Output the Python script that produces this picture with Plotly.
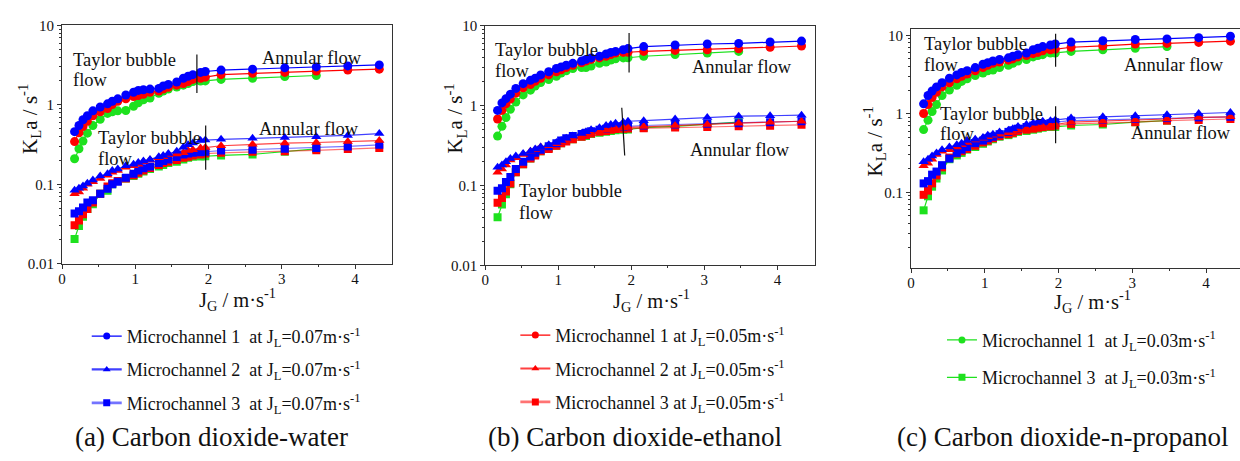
import plotly.graph_objects as go

# ---------------- data ----------------
jg = [0.17, 0.23, 0.285, 0.345, 0.42, 0.52, 0.62, 0.685, 0.76, 0.87, 0.975, 1.04, 1.11, 1.20, 1.32,
      1.38, 1.45, 1.565, 1.655, 1.72, 1.785, 1.89, 1.955, 2.17, 2.60, 3.04, 3.47, 3.90, 4.33]
jg_short = jg[:27]

# (a) carbon dioxide - water
a_c1_blue = [0.46, 0.55, 0.65, 0.73, 0.84, 0.94, 1.03, 1.11, 1.19, 1.33, 1.44, 1.52, 1.55, 1.58, 1.61, 1.73, 1.81,
             1.94, 2.16, 2.29, 2.40, 2.56, 2.63, 2.74, 2.81, 2.92, 3.00, 3.09, 3.18]
a_c1_red = [0.345, 0.445, 0.535, 0.62, 0.73, 0.82, 0.90, 1.01, 1.11, 1.19, 1.27, 1.31, 1.36, 1.44, 1.49, 1.58, 1.66,
            1.77, 1.85, 1.97, 2.09, 2.16, 2.23, 2.40, 2.49, 2.56, 2.66, 2.74, 2.81]
a_c1_green = [0.21, 0.28, 0.35, 0.44, 0.55, 0.66, 0.78, 0.82, 0.84, 0.85, 0.96, 1.06, 1.16, 1.22, 1.40, 1.49, 1.58,
              1.68, 1.77, 1.85, 1.97, 1.99, 2.00, 2.09, 2.16, 2.27, 2.34]
a_c2_blue = [0.084, 0.089, 0.095, 0.103, 0.113, 0.127, 0.136, 0.149, 0.156, 0.171, 0.179, 0.188, 0.197, 0.206, 0.223,
             0.231, 0.244, 0.261, 0.292, 0.314, 0.33, 0.355, 0.36, 0.368, 0.379, 0.389, 0.397, 0.412, 0.435]
a_c2_red = [0.076, 0.080, 0.089, 0.100, 0.108, 0.118, 0.130, 0.142, 0.149, 0.164, 0.171, 0.179, 0.192, 0.203, 0.216,
            0.223, 0.238, 0.240, 0.249, 0.266, 0.273, 0.287, 0.29, 0.306, 0.32, 0.33, 0.336, 0.345, 0.355]
a_c3_blue = [0.043, 0.046, 0.051, 0.059, 0.063, 0.076, 0.088, 0.100, 0.108, 0.121, 0.136, 0.149, 0.159, 0.168, 0.185,
             0.197, 0.206, 0.221, 0.238, 0.244, 0.249, 0.254, 0.257, 0.266, 0.273, 0.281, 0.287, 0.300, 0.314]
a_c3_red = [0.0305, 0.035, 0.042, 0.049, 0.059, 0.076, 0.094, 0.103, 0.110, 0.118, 0.130, 0.140, 0.149, 0.161, 0.175,
            0.185, 0.192, 0.203, 0.216, 0.223, 0.231, 0.238, 0.244, 0.249, 0.257, 0.261, 0.268, 0.279, 0.287]
a_c3_green = [0.0205, 0.030, 0.039, 0.049, 0.056, 0.076, 0.083, 0.100, 0.110, 0.118, 0.127, 0.136, 0.145, 0.156,
              0.168, 0.175, 0.185, 0.192, 0.206, 0.216, 0.223, 0.224, 0.226, 0.231, 0.238, 0.257, 0.279]

# (b) carbon dioxide - ethanol
b_c1_blue = [0.87, 1.08, 1.22, 1.39, 1.64, 1.88, 2.07, 2.20, 2.42, 2.65, 2.91, 3.05, 3.20, 3.38, 3.61, 3.78, 3.95,
             4.14, 4.42, 4.63, 4.76, 4.99, 5.17, 5.47, 5.73, 5.90, 6.00, 6.24, 6.41]
b_c1_red = [0.68, 0.87, 1.05, 1.21, 1.43, 1.67, 1.83, 2.01, 2.20, 2.42, 2.65, 2.80, 2.99, 3.20, 3.43, 3.61, 3.78,
            3.95, 4.14, 4.35, 4.54, 4.63, 4.65, 4.76, 4.90, 4.99, 5.13, 5.37, 5.57]
b_c1_green = [0.415, 0.55, 0.71, 0.90, 1.11, 1.36, 1.56, 1.76, 1.94, 2.12, 2.33, 2.56, 2.73, 2.91, 2.99, 3.00, 3.13,
              3.38, 3.51, 3.71, 3.85, 3.95, 3.97, 4.14, 4.35, 4.54, 4.76]
b_c2_blue = [0.169, 0.180, 0.198, 0.217, 0.234, 0.252, 0.269, 0.287, 0.303, 0.324, 0.346, 0.366, 0.390, 0.415, 0.448,
             0.469, 0.500, 0.529, 0.564, 0.580, 0.602, 0.620, 0.637, 0.648, 0.680, 0.712, 0.738, 0.746, 0.759]
b_c2_red = [0.147, 0.161, 0.180, 0.209, 0.223, 0.245, 0.269, 0.281, 0.303, 0.315, 0.333, 0.346, 0.366, 0.390, 0.408,
            0.427, 0.448, 0.469, 0.491, 0.500, 0.514, 0.529, 0.532, 0.548, 0.564, 0.580, 0.602, 0.620, 0.637]
b_c3_blue = [0.086, 0.0925, 0.111, 0.128, 0.161, 0.198, 0.230, 0.257, 0.281, 0.309, 0.339, 0.366, 0.390, 0.415, 0.440,
             0.456, 0.478, 0.500, 0.514, 0.529, 0.539, 0.548, 0.550, 0.564, 0.580, 0.591, 0.602, 0.620, 0.637]
b_c3_red = [0.061, 0.070, 0.084, 0.106, 0.147, 0.185, 0.217, 0.238, 0.269, 0.287, 0.315, 0.339, 0.356, 0.380, 0.408,
            0.427, 0.448, 0.469, 0.482, 0.500, 0.510, 0.514, 0.516, 0.520, 0.530, 0.540, 0.550, 0.560, 0.575]
b_c3_green = [0.040, 0.058, 0.078, 0.1035, 0.147, 0.185, 0.217, 0.245, 0.269, 0.295, 0.315, 0.339, 0.366, 0.380,
              0.408, 0.415, 0.440, 0.456, 0.469, 0.482, 0.491, 0.500, 0.502, 0.529, 0.548, 0.580, 0.620]

# (c) carbon dioxide - n-propanol
c_c1_blue = [1.34, 1.71, 1.95, 2.20, 2.49, 2.84, 3.13, 3.37, 3.54, 3.88, 4.28, 4.48, 4.70, 4.92, 5.16, 5.41, 5.67,
             5.94, 6.54, 6.85, 7.18, 7.53, 7.74, 8.20, 8.51, 8.83, 9.00, 9.34, 9.72]
c_c1_red = [1.01, 1.31, 1.61, 1.88, 2.20, 2.49, 2.79, 3.01, 3.22, 3.54, 3.88, 4.16, 4.40, 4.56, 4.83, 5.01, 5.31,
            5.52, 5.84, 6.06, 6.36, 6.54, 6.66, 7.05, 7.32, 7.74, 7.88, 8.12, 8.43]
c_c1_green = [0.63, 0.83, 1.07, 1.31, 1.71, 2.01, 2.31, 2.59, 2.79, 3.07, 3.31, 3.54, 3.61, 3.88, 4.16, 4.40, 4.70,
              4.92, 5.31, 5.52, 5.67, 5.94, 5.96, 6.24, 6.54, 6.85, 7.18]
c_c2_blue = [0.245, 0.264, 0.290, 0.318, 0.350, 0.378, 0.403, 0.423, 0.456, 0.474, 0.501, 0.535, 0.550, 0.589, 0.617,
             0.647, 0.691, 0.731, 0.760, 0.782, 0.804, 0.819, 0.834, 0.882, 0.916, 0.942, 0.970, 1.01, 1.04]
c_c2_red = [0.218, 0.235, 0.264, 0.304, 0.334, 0.350, 0.378, 0.403, 0.432, 0.464, 0.488, 0.511, 0.535, 0.550, 0.573,
            0.589, 0.617, 0.647, 0.665, 0.679, 0.691, 0.710, 0.731, 0.782, 0.804, 0.834, 0.859, 0.900, 0.916]
c_c3_blue = [0.130, 0.139, 0.168, 0.184, 0.222, 0.269, 0.318, 0.350, 0.378, 0.423, 0.456, 0.488, 0.511, 0.550, 0.589,
             0.617, 0.647, 0.679, 0.710, 0.731, 0.745, 0.760, 0.782, 0.819, 0.834, 0.859, 0.882, 0.900, 0.916]
c_c3_red = [0.093, 0.105, 0.130, 0.164, 0.208, 0.277, 0.312, 0.334, 0.357, 0.392, 0.432, 0.456, 0.488, 0.520, 0.550,
            0.573, 0.605, 0.628, 0.647, 0.665, 0.679, 0.691, 0.710, 0.745, 0.760, 0.782, 0.819, 0.834, 0.859]
c_c3_green = [0.059, 0.089, 0.118, 0.150, 0.190, 0.264, 0.295, 0.318, 0.350, 0.378, 0.415, 0.444, 0.474, 0.511,
              0.535, 0.561, 0.589, 0.605, 0.628, 0.647, 0.665, 0.679, 0.681, 0.710, 0.731, 0.782, 0.819]

# flow-regime transition markers: (x0, x1, y0, y1)
trans_a = [(1.84, 1.84, 1.41, 4.3), (1.96, 1.96, 0.153, 0.55)]
trans_b = [(1.97, 1.97, 2.6, 8.07), (1.91, 1.87, 0.238, 0.94)]
trans_c = [(1.96, 1.96, 3.99, 10.5), (1.96, 1.96, 0.423, 1.25)]

x_ticks = [0, 1, 2, 3, 4]
y_ticks = [0.01, 0.1, 1, 10]
y_tick_text = ["0.01", "0.1", "1", "10"]

leg_a = ["Microchannel 1\u00a0 at J<sub>L</sub>=0.07m\u00b7s<sup>-1</sup>",
         "Microchannel 2\u00a0 at J<sub>L</sub>=0.07m\u00b7s<sup>-1</sup>",
         "Microchannel 3\u00a0 at J<sub>L</sub>=0.07m\u00b7s<sup>-1</sup>"]
leg_b = ["Microchannel 1 at J<sub>L</sub>=0.05m\u00b7s<sup>-1</sup>",
         "Microchannel 2 at J<sub>L</sub>=0.05m\u00b7s<sup>-1</sup>",
         "Microchannel 3 at J<sub>L</sub>=0.05m\u00b7s<sup>-1</sup>"]
leg_c = ["Microchannel 1\u00a0 at J<sub>L</sub>=0.03m\u00b7s<sup>-1</sup>",
         "Microchannel 3\u00a0 at J<sub>L</sub>=0.03m\u00b7s<sup>-1</sup>"]
panel_titles = ["(a) Carbon dioxide-water", "(b) Carbon dioxide-ethanol", "(c) Carbon dioxide-n-propanol"]

# ---------------- style ----------------
FONT = "Liberation Serif"
BLUE, RED, GREEN = "#0000ff", "#ff0000", "#1ee11e"
LINE = {BLUE: ["#0000ff", "rgba(0,0,255,0.75)", "rgba(0,0,255,0.55)"],
        RED: ["#ff0000", "rgba(255,0,0,0.75)", "rgba(255,0,0,0.55)"],
        GREEN: ["#1ee11e", "#1ee11e", "#1ee11e"]}
LEG_W = [1.3, 2.2, 2.6]
SYM = {"c": "circle", "t": "triangle-up", "s": "square"}
IDX = {"c": 0, "t": 1, "s": 2}

fig = go.Figure()


def ax(n):
    return ("x", "y") if n == 1 else (f"x{n}", f"y{n}")


def add_series(xs, ys, color, kind, n):
    size = {"c": 9, "t": 9, "s": 8}[kind]
    xa, ya = ax(n)
    fig.add_trace(go.Scatter(
        x=xs, y=ys, mode="lines+markers",
        line=dict(color=LINE[color][IDX[kind]], width=1.2),
        marker=dict(symbol=SYM[kind], size=size, color=color, line=dict(width=0)),
        xaxis=xa, yaxis=ya, showlegend=False,
    ))


panels = [
    (1, [a_c1_blue, a_c1_red, a_c1_green], [a_c2_blue, a_c2_red], [a_c3_blue, a_c3_red, a_c3_green], trans_a),
    (2, [b_c1_blue, b_c1_red, b_c1_green], [b_c2_blue, b_c2_red], [b_c3_blue, b_c3_red, b_c3_green], trans_b),
    (3, [c_c1_blue, c_c1_red, c_c1_green], [c_c2_blue, c_c2_red], [c_c3_blue, c_c3_red, c_c3_green], trans_c),
]

for n, circ, tri, sq, trans in panels:
    for ys, col in zip(sq[::-1], [GREEN, RED, BLUE]):
        add_series(jg if len(ys) == len(jg) else jg_short, ys, col, "s", n)
    for ys, col in zip(tri[::-1], [RED, BLUE]):
        add_series(jg, ys, col, "t", n)
    for ys, col in zip(circ[::-1], [GREEN, RED, BLUE]):
        add_series(jg if len(ys) == len(jg) else jg_short, ys, col, "c", n)
    xa, ya = ax(n)
    for (x0, x1, y0, y1) in trans:
        fig.add_trace(go.Scatter(
            x=[x0, x1], y=[y0, y1], mode="lines", line=dict(color="#111", width=1.2),
            xaxis=xa, yaxis=ya, showlegend=False, hoverinfo="skip"))

# legend entries (legend-only traces)
for legend, color, names, kinds in [("legend", BLUE, leg_a, "cts"), ("legend2", RED, leg_b, "cts"),
                                    ("legend3", GREEN, leg_c, "cs")]:
    for nm, k in zip(names, kinds):
        fig.add_trace(go.Scatter(
            x=[None], y=[None], mode="lines+markers", name=nm, legend=legend, legendgroup=nm,
            line=dict(color=LINE[color][IDX[k]], width=LEG_W[IDX[k]] if color != GREEN else 1.3),
            marker=dict(symbol=SYM[k], size=7, color=color, line=dict(width=0)),
            showlegend=True, hoverinfo="skip"))

# ---------------- axes ----------------
W, H = 1240, 461
frames = {
    1: dict(x0=58.3, x1=389.0, top=18.0, bot=265.0, xr=[0, 4.50], yr=[-2, 1], mirror_y=True),
    2: dict(x0=482.7, x1=813.3, top=18.3, bot=266.7, xr=[0, 4.51], yr=[-2, 1], mirror_y=True),
    3: dict(x0=910.0, x1=1240.0, top=21.7, bot=269.3, xr=[0, 4.46], yr=[-1.963, 1.081], mirror_y=False),
}
minor_y = [m * 10 ** e for e in (-2, -1, 0) for m in range(2, 10)]
tickfont = dict(family=FONT, size=15, color="#111")
layout_axes = {}
for n, f in frames.items():
    sx = "xaxis" if n == 1 else f"xaxis{n}"
    sy = "yaxis" if n == 1 else f"yaxis{n}"
    xa, ya = ax(n)
    layout_axes[sx] = dict(
        domain=[f["x0"] / W, min(f["x1"] / W, 1.0)], range=f["xr"], anchor=ya,
        showline=True, linecolor="#333", linewidth=1, mirror=True,
        ticks="outside", ticklen=4, tickcolor="#333", tickvals=x_ticks, ticklabelstandoff=-3,
        minor=dict(ticks="outside", ticklen=2, tickcolor="#333", tickvals=[0.5, 1.5, 2.5, 3.5]),
        showgrid=False, zeroline=False, tickfont=tickfont,
    )
    layout_axes[sy] = dict(
        domain=[1 - f["bot"] / H, 1 - f["top"] / H], type="log", range=f["yr"], anchor=xa,
        showline=True, linecolor="#333", linewidth=1, mirror=f["mirror_y"],
        ticks="outside", ticklen=4, tickcolor="#333",
        tickvals=y_ticks, ticktext=y_tick_text,
        minor=dict(ticks="outside", ticklen=2, tickcolor="#333", tickvals=minor_y),
        showgrid=False, zeroline=False, tickfont=tickfont,
    )

# ---------------- annotations ----------------
ann = []


def txt(x, y, s, size=19, xanchor="left", angle=0, yanchor="middle"):
    ann.append(dict(x=x / W, y=1 - y / H, xref="paper", yref="paper", text=s, showarrow=False,
                    xanchor=xanchor, yanchor=yanchor, textangle=angle, borderpad=0,
                    font=dict(family=FONT, size=size, color="#111")))


for (x, y1, y2) in [(68, 54, 75), (93, 135, 156), (492, 44, 65), (516, 190, 212), (922, 37, 59), (938, 110, 131)]:
    txt(x, y1, "Taylor bubble", 18.5)
    txt(x, y2, "flow", 18.5)
for (x, y) in [(258, 52), (255, 125), (689, 61), (687, 147), (1123, 59), (1130, 130)]:
    txt(x, y, "Annular flow", 18.5)

ytitle = "K<sub>L</sub>a / s<sup>-1</sup>"
xtitle = "J<sub>G</sub> / m\u00b7s<sup>-1</sup>"
for (x, y) in [(25, 115), (452, 115), (873, 138)]:
    txt(x, y, ytitle, 21, xanchor="center", angle=-90)
for (x, y) in [(234, 302), (650, 303), (1092, 304)]:
    txt(x, y, xtitle, 20.5, xanchor="center")

for x, s in zip([208.6, 632.6, 1062.4], panel_titles):
    txt(x, 460.5, s, 27, xanchor="center", yanchor="bottom")

legend_common = dict(bgcolor="rgba(0,0,0,0)", borderwidth=0, tracegroupgap=7,
                     font=dict(family=FONT, size=18, color="#111"), yanchor="top", xanchor="left",
                     traceorder="grouped", itemsizing="trace")

fig.update_layout(
    width=W, height=H, margin=dict(l=0, r=0, t=0, b=0),
    paper_bgcolor="white", plot_bgcolor="white",
    font=dict(family=FONT),
    showlegend=True,
    legend=dict(x=83 / W, y=1 - 321 / H, **legend_common),
    legend2=dict(x=513 / W, y=1 - 320 / H, **legend_common),
    legend3=dict(x=941 / W, y=1 - 325 / H, **{**legend_common, "tracegroupgap": 11}),
    annotations=ann,
    **layout_axes,
)

fig.write_html("out.html")
